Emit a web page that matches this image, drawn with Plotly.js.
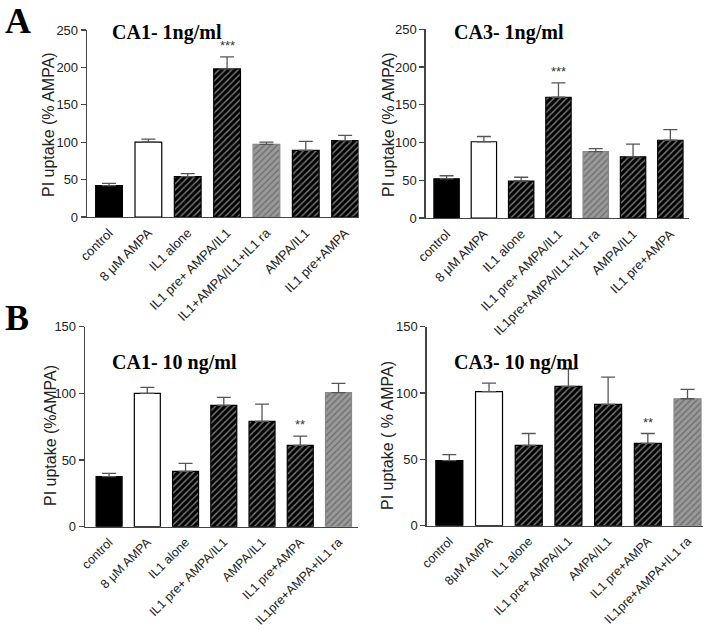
<!DOCTYPE html>
<html>
<head>
<meta charset="utf-8">
<script src="https://cdn.plot.ly/plotly-3.0.1.min.js"></script>
<style>html,body{margin:0;padding:0;background:#fff;}#chart{width:711px;height:630px;}</style>
</head>
<body>
<div id="chart"></div>
<script>
// ---------- DATA ----------
const catsA1 = ['control', '8 μM AMPA', 'IL1 alone', 'IL1 pre+ AMPA/IL1', 'IL1+AMPA/IL1+IL1 ra', 'AMPA/IL1', 'IL1 pre+AMPA'];
const valsA1 = [42, 100, 54, 198, 97, 89, 102];
const errsA1 = [3, 4, 4, 16, 3, 12, 7];

const catsA3 = ['control', '8 μM AMPA', 'IL1 alone', 'IL1 pre+ AMPA/IL1', 'IL1pre+AMPA/IL1+IL1 ra', 'AMPA/IL1', 'IL1 pre+AMPA'];
const valsA3 = [52, 101, 49, 160, 88, 81, 103];
const errsA3 = [4, 7, 5, 19, 4, 17, 14];

const catsB1 = ['control', '8 μM AMPA', 'IL1 alone', 'IL1 pre+ AMPA/IL1', 'AMPA/IL1', 'IL1 pre+AMPA', 'IL1pre+AMPA+IL1 ra'];
const valsB1 = [37.5, 100, 41.5, 91, 79, 61, 100.5];
const errsB1 = [2.5, 4.5, 6, 6, 13, 7, 7];

const catsB3 = ['control', '8μM AMPA', 'IL1 alone', 'IL1 pre+ AMPA/IL1', 'AMPA/IL1', 'IL1 pre+AMPA', 'IL1pre+AMPA+IL1 ra'];
const valsB3 = [49, 101, 60.5, 105, 91.5, 62, 95.7];
const errsB3 = [4.5, 6.5, 9, 13, 20.5, 7.5, 7];

const titleA1 = 'CA1- 1ng/ml', titleA3 = 'CA3- 1ng/ml', titleB1 = 'CA1- 10 ng/ml', titleB3 = 'CA3- 10 ng/ml';
const ylabA1 = 'PI uptake (% AMPA)', ylabA3 = 'PI uptake (% AMPA)', ylabB1 = 'PI uptake (%AMPA)', ylabB3 = 'PI uptake ( % AMPA)';
const sigA1 = [[3, '***']], sigA3 = [[3, '***']], sigB1 = [[5, '**']], sigB3 = [[5, '**']];

// ---------- STYLE ----------
const W = 711, H = 630;
const SANS = 'Arial, "Liberation Sans", sans-serif';
const SERIF = '"Times New Roman", "Liberation Serif", serif';

function styleFor(cat) {
  if (cat === 'control') return {c: '#000000', s: '', l: '#000000'};
  if (/AMPA$/.test(cat) && /μM/.test(cat)) return {c: '#ffffff', s: '', l: '#000000'};
  if (/ra$/.test(cat)) return {c: '#999999', s: '/', l: '#888888'};
  return {c: '#000000', s: '/', l: '#000000'};
}

const traces = [], annotations = [], layout = {
  width: W, height: H, margin: {l: 0, r: 0, t: 0, b: 0},
  paper_bgcolor: '#fff', plot_bgcolor: '#fff', showlegend: false, bargap: 0
};

function px2fx(p) { return p / W; }
function px2fy(p) { return 1 - p / H; }

function panel(n, cats, vals, errs, ymax, dtick, ylab, title, sig, box, xr, titlePos, ylabPos, tfs) {
  const sfx = n === 1 ? '' : String(n);
  const st = cats.map(styleFor);
  traces.push({
    type: 'bar', x: cats, y: vals, xaxis: 'x' + sfx, yaxis: 'y' + sfx, width: 0.68,
    marker: {
      color: st.map(s => s.c),
      line: {color: st.map(s => s.l), width: 1.2},
      pattern: {shape: st.map(s => s.s), fgcolor: '#ffffff', fillmode: 'overlay', size: 4.5, solidity: 0.3}
    },
    error_y: {type: 'data', symmetric: false, array: errs, arrayminus: errs.map(() => 0),
      color: '#555', thickness: 1.3, width: 7},
    hoverinfo: 'skip'
  });
  layout['xaxis' + sfx] = {
    domain: [px2fx(box[0]), px2fx(box[1])], anchor: 'y' + sfx, type: 'category',
    range: xr, showline: true, linecolor: '#444', linewidth: 1.3,
    ticks: 'outside', ticklen: 2, tickcolor: 'rgba(0,0,0,0)', showgrid: false,
    zeroline: false, tickangle: -45, tickfont: {family: SANS, size: tfs, color: '#222'}, fixedrange: true
  };
  layout['yaxis' + sfx] = {
    domain: [px2fy(box[3]), px2fy(box[2])], anchor: 'x' + sfx, range: [0, ymax], dtick: dtick,
    showline: true, linecolor: '#444', linewidth: 1.3, ticks: 'outside', ticklen: 5, tickwidth: 1.3,
    tickcolor: '#444', showgrid: false, zeroline: false,
    tickfont: {family: SANS, size: 13, color: '#222'}, fixedrange: true
  };
  annotations.push({xref: 'paper', yref: 'paper', x: px2fx(ylabPos[0]), y: px2fy(ylabPos[1]),
    xanchor: 'center', yanchor: 'middle', textangle: -90, showarrow: false, text: ylab,
    font: {family: SANS, size: 16, color: '#222'}});
  annotations.push({xref: 'paper', yref: 'paper', x: px2fx(titlePos[0]), y: px2fy(titlePos[1]),
    xanchor: 'left', yanchor: 'middle', showarrow: false, text: '<b>' + title + '</b>',
    font: {family: SERIF, size: 20, color: '#000'}});
  sig.forEach(([i, t]) => {
    annotations.push({xref: 'x' + sfx, yref: 'y' + sfx, x: cats[i], y: vals[i] + errs[i],
      xanchor: 'center', yanchor: 'bottom', yshift: 2, showarrow: false, text: t,
      font: {family: SANS, size: 13, color: '#333'}});
  });
}

panel(1, catsA1, valsA1, errsA1, 250, 50, ylabA1, titleA1, sigA1, [87, 358.5, 30, 217], [-0.56, 6.34], [110, 32], [49, 125], 13);
panel(2, catsA3, valsA3, errsA3, 250, 50, ylabA3, titleA3, sigA3, [425.7, 689, 29.3, 218], [-0.56, 6.5], [452, 32], [389, 125], 13);
panel(3, catsB1, valsB1, errsB1, 150, 50, ylabB1, titleB1, sigB1, [85, 358, 326.7, 526.7], [-0.63, 6.51], [110, 363], [50, 436], 12.5);
panel(4, catsB3, valsB3, errsB3, 150, 50, ylabB3, titleB3, sigB3, [426.7, 703, 326.7, 525.7], [-0.57, 6.39], [452, 363], [387, 436], 12.5);

annotations.push({xref: 'paper', yref: 'paper', x: px2fx(3), y: px2fy(21), xanchor: 'left', yanchor: 'middle',
  showarrow: false, text: '<b>A</b>', font: {family: SERIF, size: 36, color: '#000'}});
annotations.push({xref: 'paper', yref: 'paper', x: px2fx(3), y: px2fy(318), xanchor: 'left', yanchor: 'middle',
  showarrow: false, text: '<b>B</b>', font: {family: SERIF, size: 36, color: '#000'}});

layout.annotations = annotations;
Plotly.newPlot('chart', traces, layout, {staticPlot: true, displayModeBar: false});
</script>
</body>
</html>
